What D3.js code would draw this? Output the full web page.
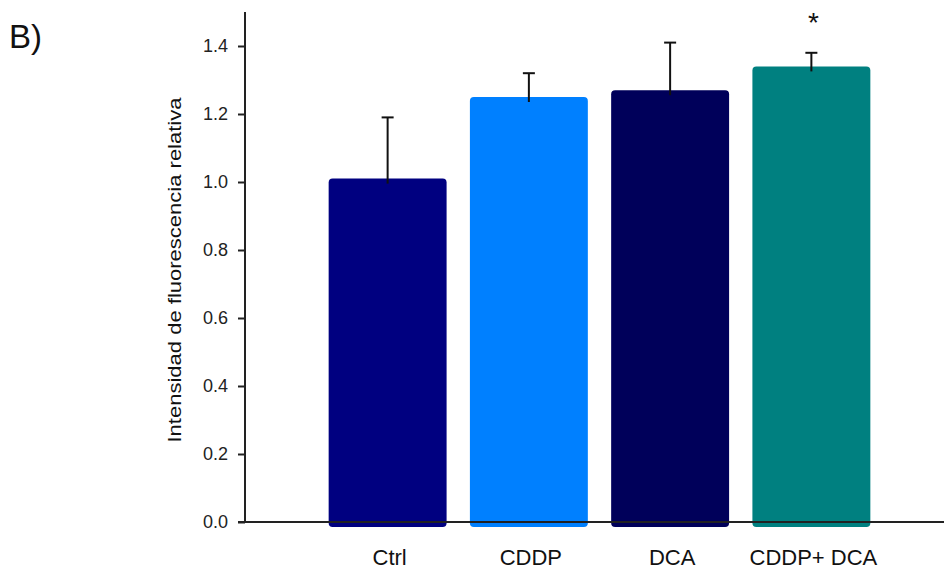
<!DOCTYPE html>
<html>
<head>
<meta charset="utf-8">
<script src="https://cdn.jsdelivr.net/npm/d3@7"></script>
<style>
  html, body { margin: 0; padding: 0; background: #fff; }
  text { font-family: "Liberation Sans", Arial, sans-serif; }
</style>
</head>
<body>
<script>
// Relative fluorescence intensity per treatment (mean ± error)
const categories = ["Ctrl", "CDDP", "DCA", "CDDP+ DCA"];
const means = [1.01, 1.25, 1.27, 1.34];
const errors = [0.18, 0.07, 0.14, 0.04];
const colors = ["#000080", "#0080FF", "#00005A", "#008080"];
const significance = ["", "", "", "*"];
const yTicks = [0.0, 0.2, 0.4, 0.6, 0.8, 1.0, 1.2, 1.4];

const W = 944, H = 570;
const svg = d3.select("body").append("svg")
  .attr("width", W).attr("height", H);

const y = d3.scaleLinear().domain([0, 1.5]).range([522, 12]);
const x = d3.scaleBand().domain(categories).range([317, 882])
  .paddingInner(0.165).paddingOuter(0.0825);

// Bars (slightly extended below the baseline, rounded corners)
svg.append("g").selectAll("rect")
  .data(categories)
  .join("rect")
  .attr("x", d => x(d))
  .attr("y", (d, i) => y(means[i]))
  .attr("width", x.bandwidth())
  .attr("height", (d, i) => y(0) - y(means[i]) + 5)
  .attr("rx", 4).attr("ry", 4)
  .attr("fill", (d, i) => colors[i]);

// Upper error bars
const eb = svg.append("g").attr("stroke", "#111").attr("stroke-width", 2);
categories.forEach((c, i) => {
  const cx = x(c) + x.bandwidth() / 2;
  const top = y(means[i] + errors[i]);
  eb.append("line").attr("x1", cx).attr("x2", cx)
    .attr("y1", y(means[i]) + 5).attr("y2", top);
  eb.append("line").attr("x1", cx - 6).attr("x2", cx + 6)
    .attr("y1", top).attr("y2", top);
});

// Significance markers
svg.append("g").selectAll("text")
  .data(categories)
  .join("text")
  .attr("x", d => x(d) + x.bandwidth() / 2 + 2)
  .attr("y", 32)
  .attr("text-anchor", "middle")
  .attr("font-size", 28)
  .attr("fill", "#111")
  .text((d, i) => significance[i]);

// Y axis
const yAxis = svg.append("g")
  .attr("transform", "translate(245,0)")
  .call(d3.axisLeft(y).tickValues(yTicks).tickSize(7).tickPadding(10)
    .tickFormat(d3.format(".1f")));
yAxis.select(".domain").attr("stroke", "#222").attr("stroke-width", 2)
  .attr("d", `M0,${y(1.5)}V${y(0)}`);
yAxis.selectAll(".tick line").attr("stroke", "#222").attr("stroke-width", 2);
yAxis.selectAll(".tick text").attr("font-size", 18).attr("fill", "#222")
  .attr("font-family", "'Liberation Sans', Arial, sans-serif");

// X baseline (drawn over bars)
svg.append("line")
  .attr("x1", 238).attr("x2", W)
  .attr("y1", y(0)).attr("y2", y(0))
  .attr("stroke", "#222").attr("stroke-width", 2);

// Category labels
svg.append("g").selectAll("text")
  .data(categories)
  .join("text")
  .attr("x", d => x(d) + x.bandwidth() / 2 + 2)
  .attr("y", 565)
  .attr("text-anchor", "middle")
  .attr("font-size", 22)
  .attr("fill", "#111")
  .text(d => d);

// Y axis title
svg.append("text")
  .attr("transform", "translate(181,270) rotate(-90)")
  .attr("text-anchor", "middle")
  .attr("font-size", 18.5)
  .attr("textLength", 345)
  .attr("lengthAdjust", "spacingAndGlyphs")
  .attr("fill", "#111")
  .text("Intensidad de fluorescencia relativa");

// Panel label
svg.append("text")
  .attr("x", 9).attr("y", 48)
  .attr("font-size", 33)
  .attr("fill", "#111")
  .text("B)");
</script>
</body>
</html>
